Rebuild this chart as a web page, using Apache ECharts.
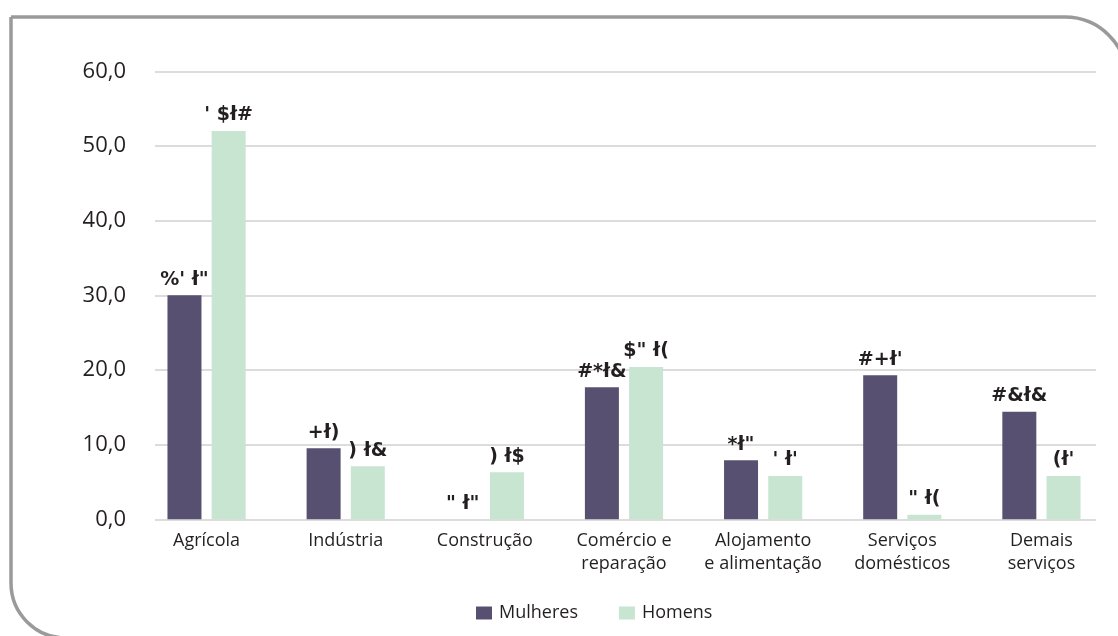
<!DOCTYPE html>
<html>
<head>
<meta charset="utf-8">
<script src="https://cdn.jsdelivr.net/npm/echarts@6/dist/echarts.min.js"></script>
<style>
html,body{margin:0;padding:0;background:#fff;}
#chart{width:1118px;height:636px;}
</style>
</head>
<body>
<div id="chart"></div>
<script>
const categories = ["Agrícola", "Indústria", "Construção", "Comércio e\nreparação", "Alojamento\ne alimentação", "Serviços\ndomésticos", "Demais\nserviços"];
const mulheres = [30.0, 9.5, 0.0, 17.7, 7.9, 19.3, 14.4];
const homens = [52.0, 7.1, 6.3, 20.4, 5.8, 0.6, 5.8];
const mulheresLabels = ["%' ł\"", "+ł)", "\" ł\"", "#*ł&", "*ł\"", "#+ł'", "#&ł&"];
const homensLabels = ["' $ł#", ") ł&", ") ł$", "$\" ł(", "' ł'", "\" ł(", "(ł'"];
const seriesNames = ["Mulheres", "Homens"];
const yTicks = [0, 10, 20, 30, 40, 50, 60];

const chart = echarts.init(document.getElementById('chart'));
const labelStyle = (arr) => ({
  show: true, position: 'top', distance: 6,
  fontFamily: 'DejaVu Sans', fontWeight: 'bold', fontSize: 19, color: '#231f20',
  formatter: p => arr[p.dataIndex]
});
chart.setOption({
  animation: false,
  backgroundColor: '#fff',
  graphic: [{
    type: 'rect', z: -10,
    shape: {x: 11, y: 17, width: 1116, height: 621, r: [0, 62, 0, 55]},
    style: {fill: 'none', stroke: '#9a9a9a', lineWidth: 3.5}
  }],
  legend: {
    data: seriesNames,
    left: 476, top: 604, padding: 0,
    itemWidth: 16, itemHeight: 13, itemGap: 41,
    icon: 'rect',
    textStyle: {fontFamily: 'Open Sans', fontSize: 18, color: '#231f20', padding: [0,0,0,2]}
  },
  grid: [
    {left: 137, right: 7, top: 71.3, bottom: 116.7},
    {left: 155, right: 22, top: 71.3, bottom: 116.7}
  ],
  xAxis: [
    {type: 'category', gridIndex: 0, data: categories,
     axisLine: {show: false}, axisTick: {show: false},
     axisLabel: {interval: 0, margin: 10, fontFamily: 'Open Sans', fontSize: 18, lineHeight: 23, color: '#231f20'}},
    {type: 'category', gridIndex: 1, data: categories, show: false}
  ],
  yAxis: [
    {type: 'value', gridIndex: 0, min: 0, max: 60, interval: 10, show: false, splitLine: {show: false}},
    {type: 'value', gridIndex: 1, min: yTicks[0], max: yTicks[yTicks.length-1], interval: 10,
     axisLine: {show: false}, axisTick: {show: false},
     splitLine: {lineStyle: {color: '#dcdcdc', width: 2}},
     axisLabel: {margin: 29, fontFamily: 'Open Sans', fontSize: 22, color: '#231f20',
       formatter: v => v.toFixed(1).replace('.', ',')}}
  ],
  series: [
    {name: seriesNames[0], type: 'bar', xAxisIndex: 0, yAxisIndex: 0, data: mulheres,
     barWidth: 34, barGap: '30%', itemStyle: {color: '#575070'}, label: labelStyle(mulheresLabels)},
    {name: seriesNames[1], type: 'bar', xAxisIndex: 0, yAxisIndex: 0, data: homens,
     barWidth: 34, barGap: '30%', itemStyle: {color: '#c7e5d1'}, label: labelStyle(homensLabels)}
  ]
});
</script>
</body>
</html>
